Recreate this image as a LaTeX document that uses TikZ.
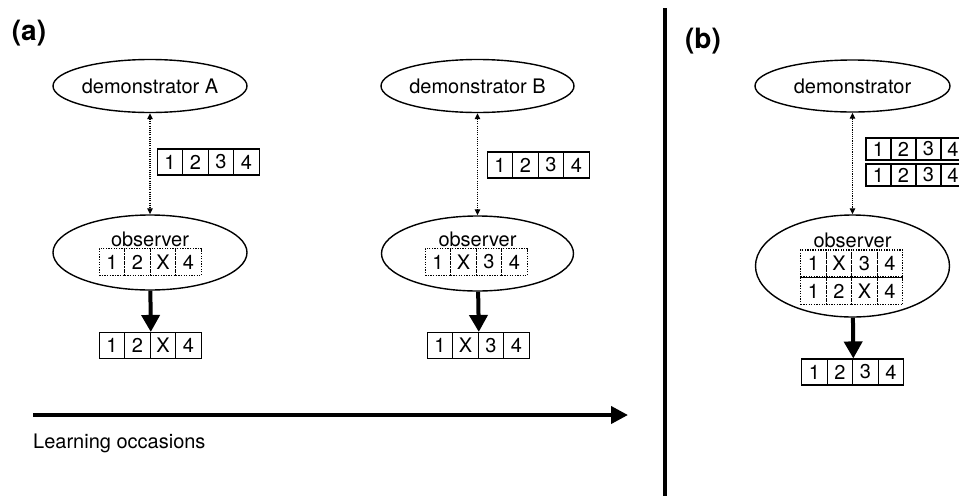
\documentclass[tikz,border=0pt]{standalone}
\usepackage{fontspec}
\setmainfont{TeX Gyre Heros}
\usetikzlibrary{arrows.meta,shapes.geometric}

\newlength{\du}
\setlength{\du}{1pt}

\tikzset{
  agent/.style={draw, ellipse, line width=1.4\du, inner sep=0pt, font=\fontsize{20}{24}\selectfont},
  cell/.style={draw, rectangle, line width=1.1\du, inner sep=0pt, minimum width=25.5\du, minimum height=26\du, font=\fontsize{20}{24}\selectfont},
  memcell/.style={cell, line width=1.3\du, dash pattern=on 1.3pt off 1.3pt, minimum height=27\du},
  label/.style={inner sep=0pt, font=\fontsize{20}{24}\selectfont},
  panel/.style={inner sep=0pt, font=\fontsize{28}{32}\selectfont\bfseries},
  copying/.style={line width=1.1\du, dash pattern=on 1.1pt off 1.1pt, {Triangle[length=6pt,width=5.5pt]}-{Triangle[length=6pt,width=5.5pt]}},
  acting/.style={line width=4\du, -{Triangle[length=17pt,width=18pt]}},
  occasions/.style={line width=4\du, -{Triangle[length=17pt,width=17pt]}},
  divider/.style={line width=4\du},
}

\begin{document}
\begin{tikzpicture}
\pgftransformxscale{1.000000}
\pgftransformyscale{-1.000000}
\useasboundingbox (0\du,0\du) rectangle (959\du,496\du);
\clip (0\du,0\du) rectangle (959\du,496\du);
% panel (a)
\node[panel] (lbla) at (29\du,33\du) {(a)};
% first occasion
\node[agent, minimum width=194\du, minimum height=53\du] (demA) at (150\du,86\du) {demonstrator A};
\node[cell] (dA1) at (170\du,162\du) {1};
\node[cell] (dA2) at (195.5\du,162\du) {2};
\node[cell] (dA3) at (221\du,162\du) {3};
\node[cell] (dA4) at (246.5\du,162\du) {4};
\node[agent, minimum width=194\du, minimum height=75\du] (obsA) at (150\du,252.5\du) {};
\node[label] (obsAtext) at (150\du,239\du) {observer};
\node[memcell] (mA1) at (112\du,262\du) {1};
\node[memcell] (mA2) at (137.5\du,262\du) {2};
\node[memcell] (mA3) at (163\du,262\du) {X};
\node[memcell] (mA4) at (188.5\du,262\du) {4};
\node[cell] (oA1) at (112\du,345.5\du) {1};
\node[cell] (oA2) at (137.5\du,345.5\du) {2};
\node[cell] (oA3) at (163\du,345.5\du) {X};
\node[cell] (oA4) at (188.5\du,345.5\du) {4};
\draw[copying] (demA) -- (obsA);
\draw[acting] (obsA) -- (oA2.north east);
% second occasion
\node[agent, minimum width=193\du, minimum height=53\du] (demB) at (477.5\du,86\du) {demonstrator B};
\node[cell] (dB1) at (500\du,165\du) {1};
\node[cell] (dB2) at (525.5\du,165\du) {2};
\node[cell] (dB3) at (551\du,165\du) {3};
\node[cell] (dB4) at (576.5\du,165\du) {4};
\node[agent, minimum width=192\du, minimum height=75\du] (obsB) at (477.5\du,253.5\du) {};
\node[label] (obsBtext) at (477.5\du,239\du) {observer};
\node[memcell] (mB1) at (438\du,262\du) {1};
\node[memcell] (mB2) at (463.5\du,262\du) {X};
\node[memcell] (mB3) at (489\du,262\du) {3};
\node[memcell] (mB4) at (514.5\du,262\du) {4};
\node[cell] (oB1) at (440\du,345.5\du) {1};
\node[cell] (oB2) at (465.5\du,345.5\du) {X};
\node[cell] (oB3) at (491\du,345.5\du) {3};
\node[cell] (oB4) at (516.5\du,345.5\du) {4};
\draw[copying] (demB) -- (obsB);
\draw[acting] (obsB) -- (oB2.north east);
% learning occasions
\coordinate (tstart) at (33\du,415\du);
\coordinate (tend) at (628\du,415\du);
\draw[occasions] (tstart) -- (tend);
\node[label, anchor=base west] (tlabel) at (33\du,448\du) {Learning occasions};
% divider
\coordinate (dtop) at (665\du,8\du);
\coordinate (dbot) at (665\du,496\du);
\draw[divider] (dtop) -- (dbot);
% panel (b)
\node[panel] (lblb) at (703\du,41\du) {(b)};
\node[agent, minimum width=195\du, minimum height=52\du] (demC) at (852.5\du,86\du) {demonstrator};
\node[cell, minimum width=25\du, minimum height=22\du] (dC1) at (878.5\du,149\du) {1};
\node[cell, minimum width=25\du, minimum height=22\du] (dC2) at (903.5\du,149\du) {2};
\node[cell, minimum width=25\du, minimum height=22\du] (dC3) at (928.5\du,149\du) {3};
\node[cell, minimum width=25\du, minimum height=22\du] (dC4) at (953\du,149\du) {4};
\node[cell, minimum width=25\du, minimum height=22\du] (eC1) at (878.5\du,175\du) {1};
\node[cell, minimum width=25\du, minimum height=22\du] (eC2) at (903.5\du,175\du) {2};
\node[cell, minimum width=25\du, minimum height=22\du] (eC3) at (928.5\du,175\du) {3};
\node[cell, minimum width=25\du, minimum height=22\du] (eC4) at (953\du,175\du) {4};
\node[agent, minimum width=194\du, minimum height=102\du] (obsC) at (852.5\du,266\du) {};
\node[label] (obsCtext) at (852.5\du,240\du) {observer};
\node[memcell] (mC1) at (813.5\du,263.5\du) {1};
\node[memcell] (mC2) at (839\du,263.5\du) {X};
\node[memcell] (mC3) at (864.5\du,263.5\du) {3};
\node[memcell] (mC4) at (890\du,263.5\du) {4};
\node[memcell] (nC1) at (813.5\du,291\du) {1};
\node[memcell] (nC2) at (839\du,291\du) {2};
\node[memcell] (nC3) at (864.5\du,291\du) {X};
\node[memcell] (nC4) at (890\du,291\du) {4};
\node[cell] (oC1) at (814.5\du,372\du) {1};
\node[cell] (oC2) at (840\du,372\du) {2};
\node[cell] (oC3) at (865.5\du,372\du) {3};
\node[cell] (oC4) at (891\du,372\du) {4};
\draw[copying] (demC) -- (obsC);
\draw[acting] (obsC) -- (oC2.north east);
\end{tikzpicture}
\end{document}
